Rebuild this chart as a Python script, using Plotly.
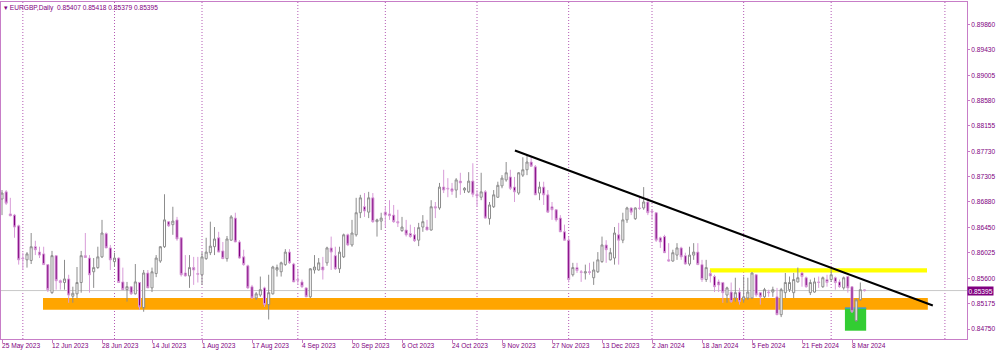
import plotly.graph_objects as go

# ---------------- data (EURGBP daily) ----------------
open_ = [
    0.8693, 0.8705, 0.8668, 0.8666, 0.8648, 0.8594, 0.8591, 0.8590, 0.8613, 0.8604,
    0.8601, 0.8583, 0.8536, 0.8598, 0.8556, 0.8553, 0.8559, 0.8530, 0.8534, 0.8553,
    0.8598, 0.8594, 0.8571, 0.8578, 0.8596, 0.8635, 0.8611, 0.8588, 0.8594, 0.8554,
    0.8541, 0.8546, 0.8534, 0.8553, 0.8511, 0.8569, 0.8544, 0.8568, 0.8589, 0.8613,
    0.8655, 0.8650, 0.8658, 0.8628, 0.8569, 0.8564, 0.8578, 0.8568, 0.8566, 0.8593,
    0.8603, 0.8613, 0.8628, 0.8606, 0.8593, 0.8624, 0.8661, 0.8621, 0.8596, 0.8581,
    0.8546, 0.8527, 0.8532, 0.8544, 0.8516, 0.8534, 0.8574, 0.8571, 0.8583, 0.8604,
    0.8584, 0.8558, 0.8554, 0.8544, 0.8529, 0.8574, 0.8574, 0.8579, 0.8586, 0.8611,
    0.8598, 0.8576, 0.8596, 0.8633, 0.8616, 0.8633, 0.8670, 0.8680, 0.8671, 0.8695,
    0.8655, 0.8656, 0.8671, 0.8668, 0.8666, 0.8655, 0.8640, 0.8641, 0.8635, 0.8633,
    0.8624, 0.8646, 0.8646, 0.8641, 0.8680, 0.8678, 0.8713, 0.8711, 0.8710, 0.8708,
    0.8723, 0.8708, 0.8705, 0.8723, 0.8701, 0.8696, 0.8705, 0.8660, 0.8680, 0.8696,
    0.8715, 0.8725, 0.8730, 0.8713, 0.8703, 0.8733, 0.8742, 0.8755, 0.8747, 0.8703,
    0.8713, 0.8700, 0.8680, 0.8675, 0.8661, 0.8638, 0.8624, 0.8566, 0.8578, 0.8571,
    0.8569, 0.8571, 0.8561, 0.8571, 0.8588, 0.8616, 0.8591, 0.8594, 0.8633, 0.8624,
    0.8658, 0.8678, 0.8660, 0.8678, 0.8678, 0.8688, 0.8673, 0.8670, 0.8628, 0.8630,
    0.8591, 0.8589, 0.8599, 0.8611, 0.8598, 0.8584, 0.8599, 0.8604, 0.8583, 0.8558,
    0.8568, 0.8563, 0.8554, 0.8553, 0.8532, 0.8537, 0.8527, 0.8537, 0.8524, 0.8527,
    0.8527, 0.8566, 0.8536, 0.8529, 0.8537, 0.8537, 0.8529, 0.8499, 0.8536, 0.8541,
    0.8536, 0.8554, 0.8569, 0.8561, 0.8536, 0.8537, 0.8554, 0.8546, 0.8558, 0.8558,
    0.8561, 0.8554, 0.8544, 0.8563, 0.8546, 0.8489, 0.8524, 0.85407,
]
high = [
    0.8708, 0.8708, 0.8695, 0.8668, 0.8650, 0.8603, 0.8604, 0.8636, 0.8623, 0.8613,
    0.8613, 0.8584, 0.8606, 0.8599, 0.8558, 0.8591, 0.8566, 0.8546, 0.8579, 0.8606,
    0.8636, 0.8599, 0.8594, 0.8613, 0.8658, 0.8637, 0.8616, 0.8603, 0.8595, 0.8578,
    0.8554, 0.8547, 0.8584, 0.8554, 0.8574, 0.8574, 0.8578, 0.8599, 0.8614, 0.8701,
    0.8656, 0.8680, 0.8663, 0.8629, 0.8599, 0.8599, 0.8596, 0.8596, 0.8604, 0.8628,
    0.8655, 0.8646, 0.8638, 0.8621, 0.8631, 0.8666, 0.8670, 0.8624, 0.8608, 0.8583,
    0.8549, 0.8537, 0.8563, 0.8546, 0.8566, 0.8581, 0.8583, 0.8588, 0.8609, 0.8609,
    0.8586, 0.8574, 0.8558, 0.8545, 0.8577, 0.8599, 0.8594, 0.8596, 0.8613, 0.8630,
    0.8613, 0.8613, 0.8635, 0.8635, 0.8658, 0.8695, 0.8700, 0.8703, 0.8705, 0.8703,
    0.8660, 0.8670, 0.8680, 0.8691, 0.8683, 0.8675, 0.8663, 0.8658, 0.8650, 0.8646,
    0.8653, 0.8666, 0.8658, 0.8691, 0.8688, 0.8720, 0.8742, 0.8728, 0.8720, 0.8728,
    0.8737, 0.8713, 0.8738, 0.8753, 0.8708, 0.8737, 0.8708, 0.8688, 0.8708, 0.8722,
    0.8733, 0.8755, 0.8742, 0.8730, 0.8738, 0.8763, 0.8767, 0.8763, 0.8750, 0.8722,
    0.8722, 0.8708, 0.8688, 0.8676, 0.8666, 0.8650, 0.8630, 0.8586, 0.8586, 0.8574,
    0.8583, 0.8586, 0.8588, 0.8604, 0.8630, 0.8624, 0.8611, 0.8646, 0.8653, 0.8670,
    0.8680, 0.8679, 0.8679, 0.8695, 0.8713, 0.8695, 0.8675, 0.8671, 0.8630, 0.8633,
    0.8619, 0.8608, 0.8619, 0.8613, 0.8603, 0.8613, 0.8619, 0.8619, 0.8591, 0.8591,
    0.8574, 0.8566, 0.8558, 0.8554, 0.8546, 0.8553, 0.8561, 0.8544, 0.8563, 0.8561,
    0.8570, 0.8567, 0.8537, 0.8544, 0.8541, 0.8546, 0.8544, 0.8544, 0.8569, 0.8563,
    0.8569, 0.8578, 0.8571, 0.8563, 0.8558, 0.8561, 0.8563, 0.8563, 0.8566, 0.8578,
    0.8563, 0.8558, 0.8563, 0.8564, 0.8547, 0.8526, 0.8553, 0.85418,
]
low = [
    0.8666, 0.8683, 0.8664, 0.8628, 0.8583, 0.8574, 0.8578, 0.8584, 0.8599, 0.8594,
    0.8583, 0.8537, 0.8534, 0.8541, 0.8541, 0.8541, 0.8519, 0.8519, 0.8527, 0.8536,
    0.8594, 0.8536, 0.8544, 0.8576, 0.8594, 0.8611, 0.8574, 0.8579, 0.8553, 0.8541,
    0.8521, 0.8532, 0.8533, 0.8507, 0.8504, 0.8544, 0.8537, 0.8562, 0.8586, 0.8611,
    0.8646, 0.8633, 0.8623, 0.8563, 0.8563, 0.8544, 0.8549, 0.8553, 0.8549, 0.8591,
    0.8599, 0.8599, 0.8604, 0.8593, 0.8588, 0.8623, 0.8621, 0.8593, 0.8581, 0.8542,
    0.8526, 0.8524, 0.8529, 0.8512, 0.8491, 0.8533, 0.8563, 0.8563, 0.8581, 0.8584,
    0.8554, 0.8549, 0.8544, 0.8529, 0.8527, 0.8568, 0.8573, 0.8558, 0.8581, 0.8574,
    0.8574, 0.8569, 0.8594, 0.8614, 0.8613, 0.8630, 0.8661, 0.8663, 0.8661, 0.8653,
    0.8630, 0.8641, 0.8646, 0.8658, 0.8653, 0.8646, 0.8638, 0.8630, 0.8628, 0.8621,
    0.8614, 0.8638, 0.8641, 0.8640, 0.8661, 0.8675, 0.8703, 0.8696, 0.8700, 0.8695,
    0.8700, 0.8703, 0.8703, 0.8696, 0.8680, 0.8691, 0.8660, 0.8650, 0.8678, 0.8695,
    0.8711, 0.8722, 0.8708, 0.8688, 0.8700, 0.8730, 0.8733, 0.8747, 0.8700, 0.8691,
    0.8683, 0.8670, 0.8658, 0.8655, 0.8638, 0.8624, 0.8553, 0.8563, 0.8569, 0.8554,
    0.8558, 0.8566, 0.8549, 0.8569, 0.8586, 0.8586, 0.8590, 0.8583, 0.8583, 0.8619,
    0.8653, 0.8666, 0.8658, 0.8675, 0.8675, 0.8666, 0.8658, 0.8621, 0.8611, 0.8603,
    0.8588, 0.8588, 0.8591, 0.8591, 0.8583, 0.8581, 0.8591, 0.8583, 0.8554, 0.8554,
    0.8553, 0.8537, 0.8537, 0.8519, 0.8519, 0.8519, 0.8521, 0.8516, 0.8519, 0.8524,
    0.8526, 0.8529, 0.8516, 0.8527, 0.8529, 0.8529, 0.8499, 0.8495, 0.8527, 0.8537,
    0.8527, 0.8553, 0.8546, 0.8544, 0.8532, 0.8536, 0.8544, 0.8544, 0.8546, 0.8554,
    0.8541, 0.8544, 0.8541, 0.8536, 0.8502, 0.8487, 0.8523, 0.85379,
]
close = [
    0.8703, 0.8686, 0.8665, 0.8646, 0.8591, 0.8593, 0.8601, 0.8613, 0.8608, 0.8599,
    0.8583, 0.8541, 0.8598, 0.8556, 0.8553, 0.8559, 0.8532, 0.8535, 0.8553, 0.8598,
    0.8595, 0.8566, 0.8578, 0.8596, 0.8636, 0.8611, 0.8591, 0.8594, 0.8553, 0.8541,
    0.8546, 0.8534, 0.8554, 0.8512, 0.8569, 0.8544, 0.8571, 0.8594, 0.8613, 0.8658,
    0.8648, 0.8656, 0.8626, 0.8566, 0.8564, 0.8578, 0.8574, 0.8567, 0.8596, 0.8604,
    0.8614, 0.8626, 0.8604, 0.8593, 0.8626, 0.8663, 0.8621, 0.8594, 0.8583, 0.8544,
    0.8527, 0.8534, 0.8541, 0.8516, 0.8536, 0.8579, 0.8578, 0.8586, 0.8604, 0.8586,
    0.8554, 0.8557, 0.8546, 0.8529, 0.8576, 0.8579, 0.8586, 0.8574, 0.8611, 0.8604,
    0.8576, 0.8604, 0.8633, 0.8616, 0.8636, 0.8670, 0.8695, 0.8673, 0.8695, 0.8655,
    0.8658, 0.8661, 0.8666, 0.8665, 0.8655, 0.8653, 0.8646, 0.8633, 0.8630, 0.8623,
    0.8645, 0.8655, 0.8641, 0.8680, 0.8678, 0.8713, 0.8708, 0.8710, 0.8706, 0.8725,
    0.8720, 0.8711, 0.8723, 0.8701, 0.8698, 0.8705, 0.8661, 0.8683, 0.8700, 0.8716,
    0.8728, 0.8737, 0.8711, 0.8705, 0.8737, 0.8742, 0.8755, 0.8748, 0.8700, 0.8713,
    0.8700, 0.8671, 0.8675, 0.8658, 0.8638, 0.8624, 0.8558, 0.8578, 0.8573, 0.8570,
    0.8571, 0.8570, 0.8574, 0.8591, 0.8616, 0.8608, 0.8603, 0.8636, 0.8624, 0.8658,
    0.8678, 0.8671, 0.8678, 0.8677, 0.8688, 0.8670, 0.8671, 0.8624, 0.8621, 0.8603,
    0.8589, 0.8603, 0.8611, 0.8596, 0.8584, 0.8599, 0.8604, 0.8583, 0.8558, 0.8578,
    0.8564, 0.8546, 0.8549, 0.8536, 0.8544, 0.8521, 0.8536, 0.8521, 0.8529, 0.8537,
    0.8569, 0.8532, 0.8529, 0.8541, 0.8536, 0.8541, 0.8499, 0.8541, 0.8553, 0.8553,
    0.8558, 0.8561, 0.8563, 0.8546, 0.8553, 0.8554, 0.8553, 0.8561, 0.8553, 0.8566,
    0.8553, 0.8546, 0.8561, 0.8544, 0.8504, 0.8524, 0.8541, 0.85395,
]
bar_index = list(range(len(open_)))

date_labels = ["25 May 2023", "12 Jun 2023", "28 Jun 2023", "14 Jul 2023", "1 Aug 2023",
               "17 Aug 2023", "4 Sep 2023", "20 Sep 2023", "6 Oct 2023", "24 Oct 2023",
               "9 Nov 2023", "27 Nov 2023", "13 Dec 2023", "2 Jan 2024", "18 Jan 2024",
               "5 Feb 2024", "21 Feb 2024", "8 Mar 2024"]
date_label_idx = [0, 12, 24, 36, 48, 60, 72, 84, 96, 108, 120, 132, 144, 156, 168, 180, 192, 204]
month_start_idx = [5, 27, 48, 71, 92, 114, 136, 156, 178, 199, 226.3]

price_ticks = [0.89860, 0.89430, 0.89005, 0.88580, 0.88155, 0.87730, 0.87305,
               0.86880, 0.86450, 0.86025, 0.85600, 0.85175, 0.84750]
last_price = 0.85395
title_text = "EURGBP,Daily  0.85407 0.85418 0.85379 0.85395"

# drawn objects (bar index / price)
orange_zone = dict(x0=9.84, x1=222.2, y0=0.85073, y1=0.85269)
yellow_zone = dict(x0=169.9, x1=222.0, y0=0.85697, y1=0.85771)
green_zone = dict(x0=202.3, x1=207.4, y0=0.84722, y1=0.85101)
trend_line = dict(x0=123.1, y0=0.87743, x1=223.4, y1=0.85145)

AX = "#C77DC7"
GRID = "#B45AB4"
TXT = "#800080"
FONT = "Liberation Sans"

fig = go.Figure()
fig.add_trace(go.Candlestick(
    x=bar_index, open=open_, high=high, low=low, close=close,
    increasing=dict(line=dict(color="#8C8C8C", width=1), fillcolor="#FFFFFF"),
    decreasing=dict(line=dict(color="#D89CD8", width=1), fillcolor="#800080"),
    whiskerwidth=0, hoverinfo="skip", showlegend=False,
))

shapes = []
for m in month_start_idx:
    shapes.append(dict(type="line", xref="x", yref="paper", x0=m, x1=m, y0=0, y1=1,
                       line=dict(color=GRID, width=1, dash="1px,2px"), layer="below"))
shapes.append(dict(type="line", xref="paper", yref="y", x0=0, x1=1, y0=last_price, y1=last_price,
                   line=dict(color="#C8C8C8", width=1), layer="below"))
shapes.append(dict(type="rect", xref="x", yref="y", **orange_zone,
                   fillcolor="#FFA500", line=dict(width=0), layer="below"))
shapes.append(dict(type="rect", xref="x", yref="y", **yellow_zone,
                   fillcolor="#FFFF00", line=dict(width=0), layer="below"))
shapes.append(dict(type="rect", xref="x", yref="y", **green_zone,
                   fillcolor="#32CD32", line=dict(width=0), layer="below"))
shapes.append(dict(type="line", xref="x", yref="y", x0=green_zone["x0"], x1=green_zone["x1"],
                   y0=green_zone["y1"], y1=green_zone["y1"],
                   line=dict(color="#3A9AD0", width=1.5), layer="below"))
shapes.append(dict(type="line", xref="x", yref="y", **trend_line,
                   line=dict(color="#000000", width=2), layer="above"))

annotations = []
for idx, lab in zip(date_label_idx, date_labels):
    annotations.append(dict(x=idx, y=0, xref="x", yref="paper", text=lab, showarrow=False,
                            xanchor="left", yanchor="top", yshift=-1, xshift=-2,
                            font=dict(family=FONT, size=6.6, color=TXT)))
annotations.append(dict(x=0, y=1, xref="paper", yref="paper", text="\u25BE " + title_text,
                        showarrow=False, xanchor="left", yanchor="top", xshift=1, yshift=0,
                        font=dict(family=FONT, size=6.6, color=TXT)))
annotations.append(dict(x=1, y=last_price, xref="paper", yref="y", text="%.5f" % last_price,
                        showarrow=False, xanchor="left", yanchor="middle", xshift=0,
                        bgcolor=TXT, borderpad=0.5,
                        font=dict(family=FONT, size=6.6, color="#FFFFFF")))

fig.update_layout(
    width=1000, height=352, autosize=False,
    margin=dict(l=1, r=33, t=2, b=13),
    paper_bgcolor="#FFFFFF", plot_bgcolor="#FFFFFF",
    shapes=shapes, annotations=annotations, showlegend=False,
    xaxis=dict(range=[-0.24, 231.6], rangeslider=dict(visible=False), showgrid=False,
               zeroline=False, showline=True, mirror=True, linecolor=AX, linewidth=1,
               tickmode="array", tickvals=date_label_idx, ticks="outside", ticklen=3,
               tickcolor=AX, showticklabels=False, fixedrange=True),
    yaxis=dict(side="right", range=[0.84583, 0.90233], showgrid=False, zeroline=False,
               showline=True, mirror=True, linecolor=AX, linewidth=1,
               tickmode="array", tickvals=price_ticks,
               ticktext=["%.5f" % v for v in price_ticks],
               ticks="outside", ticklen=2, tickcolor=AX,
               tickfont=dict(family=FONT, size=6.6, color=TXT), fixedrange=True),
)

fig.write_html("out.html")
